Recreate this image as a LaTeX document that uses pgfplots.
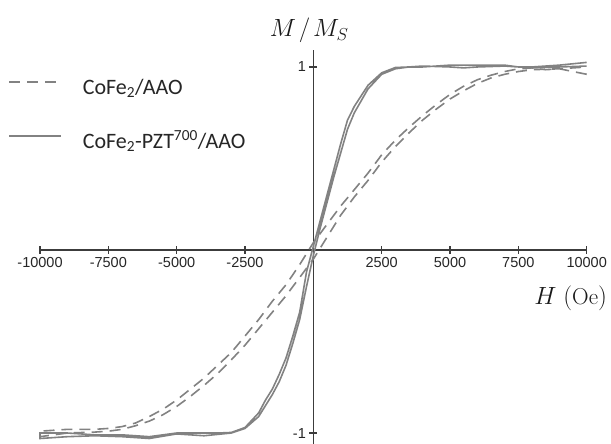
\documentclass[border=0pt]{standalone}
\usepackage{fontspec}
\newfontfamily\arial{Liberation Sans}
\newfontfamily\carlito{Carlito}
\usepackage{pgfplots}
\pgfplotsset{compat=1.18}
\definecolor{cg}{RGB}{130,130,130}
\definecolor{ax}{RGB}{60,60,60}
\begin{document}
\begin{tikzpicture}
\begin{axis}[
  scale only axis, width=546.7pt, height=393.5pt,
  xmin=-10000, xmax=10000, ymin=-1.06, ymax=1.09,
  axis lines=middle, axis line style={-, draw=ax, line width=1.2pt},
  enlargelimits=false, clip=false,
  xtick={-10000,-7500,-5000,-2500,2500,5000,7500,10000},
  xticklabels={-10000,-7500,-5000,-2500,2500,5000,7500,10000},
  ytick={-1,1}, yticklabels={-1,1},
  tick align=center, major tick length=8pt,
  tick style={draw=ax, line width=1.2pt},
  ticklabel style={font=\arial\fontsize{14.5}{16}\selectfont, text=black!85},
  scaled x ticks=false,
  legend style={at={(-0.0585,0.9403)}, anchor=north west, draw=none, fill=none,
    inner sep=0pt, row sep=32pt, column sep=21pt,
    nodes={inner sep=0pt, text height=20pt, text depth=2pt,
      font=\carlito\fontsize{22}{24}\selectfont, text=black!85}},
  legend cell align=left,
  legend image code/.code={\draw[#1] (0pt,3pt) -- (52pt,3pt);},
]
\addplot[cg, line width=1.6pt, dash pattern=on 11pt off 7pt] coordinates {
(10000,0.96) (9500,0.975) (9000,0.99) (8500,0.985) (8000,0.995) (7500,0.99)
(7000,0.975) (6500,0.955) (6000,0.93) (5500,0.895) (5000,0.85) (4500,0.795)
(4000,0.735) (3500,0.67) (3000,0.60) (2500,0.52) (2000,0.42) (1500,0.33)
(1000,0.24) (500,0.14) (0,0.04) (-500,-0.08) (-1000,-0.19) (-1500,-0.28)
(-2000,-0.38) (-2500,-0.47) (-3000,-0.56) (-3500,-0.63) (-4000,-0.70)
(-4500,-0.76) (-5000,-0.82) (-5500,-0.87) (-6000,-0.91) (-6500,-0.945)
(-7000,-0.965) (-7500,-0.975) (-8000,-0.98) (-9000,-0.98) (-10000,-0.99)
(-10000,-1.02) (-9000,-1.0) (-8000,-0.995) (-7500,-0.99) (-7000,-0.98)
(-6500,-0.96) (-6000,-0.935) (-5500,-0.90) (-5000,-0.855) (-4500,-0.80)
(-4000,-0.74) (-3500,-0.675) (-3000,-0.60) (-2500,-0.52) (-2000,-0.43)
(-1500,-0.34) (-1000,-0.25) (-500,-0.15) (0,-0.05) (500,0.07) (1000,0.19)
(1500,0.29) (2000,0.38) (2500,0.48) (3000,0.565) (3500,0.64) (4000,0.71)
(4500,0.77) (5000,0.825) (5500,0.87) (6000,0.91) (6500,0.94) (7000,0.96)
(7500,0.975) (8000,0.985) (9000,0.99) (10000,1.0)
};
\addlegendentry{CoFe\textsubscript{2}/AAO}
\addplot[cg, line width=1.6pt] coordinates {
(10000,1.025) (9000,1.01) (8000,1.0) (7500,1.0) (7000,1.01) (6000,1.01)
(5000,1.01) (4000,1.0) (3500,1.0) (3000,0.997) (2500,0.968) (2000,0.90)
(1500,0.785) (1250,0.71) (1000,0.58) (750,0.44) (500,0.30) (250,0.16)
(0,0.02) (-250,-0.12) (-500,-0.34) (-750,-0.47) (-1000,-0.59) (-1250,-0.68)
(-1500,-0.76) (-1750,-0.82) (-2000,-0.89) (-2500,-0.97) (-3000,-0.997)
(-3500,-1.0) (-4000,-1.0) (-5000,-1.0) (-6000,-1.02) (-7000,-1.01)
(-8000,-1.01) (-9000,-1.0) (-10000,-1.0)
(-10000,-1.03) (-9000,-1.02) (-8000,-1.015) (-7000,-1.02) (-6000,-1.03)
(-5000,-1.005) (-4000,-1.015) (-3000,-1.0) (-2500,-0.975) (-2000,-0.91)
(-1750,-0.85) (-1500,-0.79) (-1250,-0.72) (-1000,-0.63) (-750,-0.51)
(-500,-0.38) (-250,-0.20) (0,-0.03) (250,0.12) (500,0.26) (750,0.40)
(1000,0.53) (1250,0.66) (1500,0.75) (2000,0.88) (2500,0.96) (3000,0.99)
(3500,1.0) (4000,1.005) (5000,1.0) (5500,0.995) (6000,1.0) (7000,1.005)
(7500,1.0) (8000,0.995) (9000,1.0) (10000,1.005)
};
\addlegendentry{CoFe\textsubscript{2}-PZT\textsuperscript{700}/AAO}
\node[anchor=base, font=\fontsize{23}{25}\selectfont, text=black!90] at (axis cs:-150,1.164) {$M\mkern2mu/\mkern2mu M_S$};
\node[anchor=base east, font=\fontsize{23}{25}\selectfont, text=black!90] at (axis cs:10870,-0.30) {$H\ (\mathrm{Oe})$};
\coordinate (BL) at (rel axis cs:0,0);
\coordinate (TR) at (rel axis cs:1,1);
\end{axis}
\pgfresetboundingbox
\path[use as bounding box] ([xshift=-40pt]BL) rectangle ([xshift=24.3pt,yshift=50.5pt]TR);
\end{tikzpicture}
\end{document}
